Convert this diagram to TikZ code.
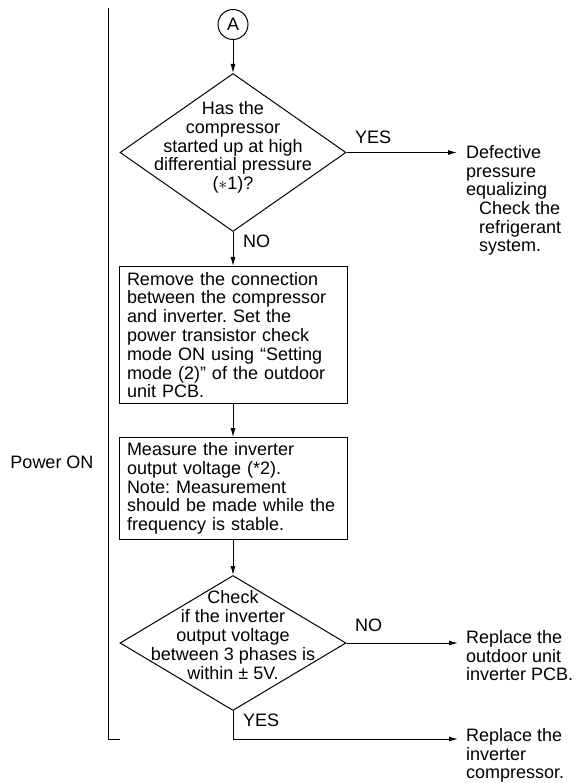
\documentclass[tikz,border=0pt]{standalone}
\usepackage{fontspec}
\setmainfont{Liberation Sans}
\usetikzlibrary{positioning, arrows.meta, shapes.geometric}
\frenchspacing
\tikzset{
  base/.style={
    draw,
    line width=1.0pt,
    font=\fontsize{18}{18.8}\selectfont,
  },
  conn/.style={base, circle, minimum size=30pt, inner sep=0pt},
  check/.style={base, diamond, minimum width=226pt, minimum height=158pt, inner sep=0pt},
  qtext/.style={align=center, inner sep=0pt, font=\fontsize{18}{18.8}\selectfont},
  action/.style={
    base,
    align=left,
    text width=212pt,
    inner xsep=8pt,
    inner ysep=3pt,
  },
  result/.style={align=left, anchor=north west, inner sep=0pt, font=\fontsize{18}{18.6}\selectfont},
  lbl/.style={anchor=west, inner sep=0pt, font=\fontsize{18}{18.8}\selectfont},
  arr/.style={-{Latex[length=9pt, width=5pt]}, line width=1.0pt},
}

\begin{document}
\begin{tikzpicture}[x=1pt, y=-1pt]
\useasboundingbox (0,0) rectangle (577,783);

% Main column
\node[conn] (A) at (233,24.5) {A};
\node[check, below=33pt of A] (d1) {};
\node[qtext] (q1) at ([yshift=5pt]d1.center) {Has the\\compressor\\started up at high\\differential pressure\\($\ast$1)?};
\node[action, minimum height=137pt, below=34pt of d1] (b1) {Remove the connection\\between the compressor\\and inverter. Set the\\power transistor check\\mode ON using ``Setting\\mode (2)'' of the outdoor\\unit PCB.};
\node[action, minimum height=102pt, below=33pt of b1] (b2) {Measure the inverter\\output voltage (*2).\\Note: Measurement\\should be made while the\\frequency is stable.};
\node[check, minimum height=135pt, below=35pt of b2] (d2) {};
\node[qtext] (q2) at ([yshift=8pt]d2.center) {Check\\if the inverter\\output voltage\\between 3 phases is\\within ± 5V.};

% Outcomes
\node[result] (r1) at (466,145.5) {Defective\\pressure\\equalizing\\\hspace*{13pt}Check the\\\hspace*{13pt}refrigerant\\\hspace*{13pt}system.};
\node[result] (r2) at (466,630.5) {Replace the\\outdoor unit\\inverter PCB.};
\node[result] (r3) at (466,728.5) {Replace the\\inverter\\compressor.};

% Branch labels
\node[lbl] (yes1) at (355,137) {YES};
\node[lbl] (no1)  at (243,241) {NO};
\node[lbl] (no2)  at (355,625) {NO};
\node[lbl] (yes2) at (243,720) {YES};

% Power ON bracket
\coordinate (ptop) at (108,8);
\coordinate (pbot) at (108,739);
\draw[line width=1.0pt] (ptop) -- (pbot) -- ++(12,0);
\node[font=\fontsize{18}{18.8}\selectfont] (pon) at (52,462) {Power ON};

% --- Flow arrows -------------------------------------------------------
\foreach \a/\b in {A/d1, d1/b1, b1/b2, b2/d2}
  {\draw[arr] (\a.south) -- (\b.north);}
\draw[arr, shorten >=9pt] (d1.east) -- (d1.east -| r1.west);
\draw[arr, shorten >=8pt] (d2.east) -- (d2.east -| r2.west);
\draw[arr, shorten >=8pt] (d2.south) |- ([yshift=-10.5pt]r3.north west);

\end{tikzpicture}
\end{document}
